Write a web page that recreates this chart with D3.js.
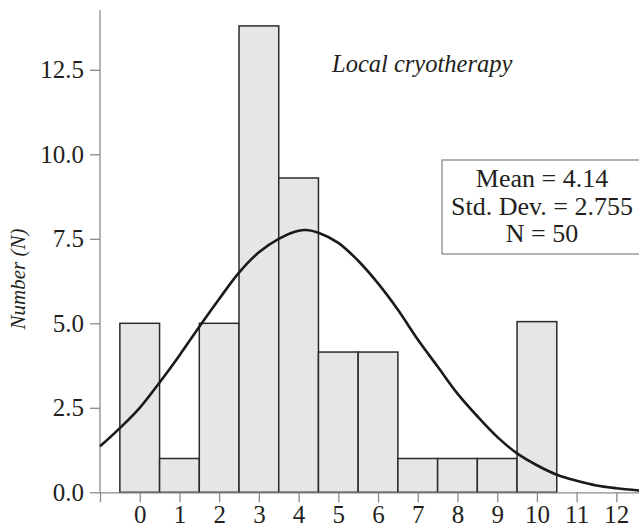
<!DOCTYPE html>
<meta charset="utf-8">
<head>
    <style>
        body { margin: 0; background: #fff; }
        svg { display: block; }
        text { font-family: 'Liberation Serif', serif; fill: #231f20; }
        .axis path, .axis line { stroke: #8a8a8a; stroke-width: 1.3; }
        .axis text { font-size: 25px; }
        .bar { fill: #e5e6e8; stroke: #2b2b2b; stroke-width: 1.5; }
        .curve { fill: none; stroke: #1a1a1a; stroke-width: 2.6; }
    </style>
</head>
<body>
    <svg width="639" height="527"></svg>

    <script src="https://d3js.org/d3.v7.min.js"></script>
    <script type="text/javascript">

        // histogram counts per score (bin width 1)
        var scores = [0, 1, 2, 3, 4, 5, 6, 7, 8, 9, 10];
        var counts = [5, 1, 5, 13.8, 9.3, 4.15, 4.15, 1, 1, 1, 5.05];

        // normal curve
        var curveX = [-1, -0.5, 0, 0.5, 1, 1.5, 2, 2.5, 3, 3.5, 4, 4.2, 4.5, 5, 5.5, 6, 6.5, 7, 7.5, 8, 8.5, 9, 9.5, 10, 10.5, 11, 11.5, 12, 12.6];
        var curveY = [1.36, 1.9, 2.5, 3.25, 4.05, 4.9, 5.72, 6.5, 7.1, 7.5, 7.74, 7.76, 7.68, 7.38, 6.85, 6.18, 5.4, 4.52, 3.72, 2.92, 2.25, 1.64, 1.15, 0.8, 0.52, 0.34, 0.2, 0.12, 0.05];

        var yTicks = [0, 2.5, 5, 7.5, 10, 12.5];
        var xTicks = [-1, 0, 1, 2, 3, 4, 5, 6, 7, 8, 9, 10, 11, 12];

        var statsLines = ["Mean = 4.14", "Std. Dev. = 2.755", "N = 50"];
        var title = "Local cryotherapy";
        var yLabel = "Number (N)";

        var svg = d3.select("svg");

        var x = d3.scaleLinear()
            .domain([-1, 12.57])
            .range([100, 639]);

        var y = d3.scaleLinear()
            .domain([0, 14.27])
            .range([492.3, 10]);

        // bars
        svg.append("g")
            .selectAll("rect")
            .data(scores)
            .enter()
            .append("rect")
            .attr("class", "bar")
            .attr("x", function (d) { return x(d - 0.5); })
            .attr("width", function (d) { return x(d + 0.5) - x(d - 0.5); })
            .attr("y", function (d, i) { return y(counts[i]); })
            .attr("height", function (d, i) { return y(0) - y(counts[i]); });

        // axes
        var yAxis = d3.axisLeft(y)
            .tickValues(yTicks)
            .tickSize(10)
            .tickPadding(6)
            .tickSizeOuter(0)
            .tickFormat(d3.format(".1f"));

        svg.append("g")
            .attr("class", "axis")
            .attr("transform", "translate(100,0)")
            .call(yAxis)
            .call(function (g) { g.select(".domain").attr("d", "M0," + y.range()[1] + "V" + y(0)); });

        var xAxis = d3.axisBottom(x)
            .tickValues(xTicks)
            .tickSize(10)
            .tickPadding(4)
            .tickSizeOuter(0)
            .tickFormat(function (d) { return d < 0 ? "" : d; });

        svg.append("g")
            .attr("class", "axis")
            .attr("transform", "translate(0," + y(0) + ")")
            .call(xAxis)
            .call(function (g) { g.selectAll("text").attr("y", 30.5).attr("dy", 0); });

        // fitted curve
        var line = d3.line()
            .x(function (d) { return x(d); })
            .y(function (d, i) { return y(curveY[i]); })
            .curve(d3.curveCatmullRom);

        svg.append("path")
            .attr("class", "curve")
            .attr("d", line(curveX));

        // title
        svg.append("text")
            .attr("x", 332)
            .attr("y", 72)
            .style("font-style", "italic")
            .style("font-size", "24.5px")
            .text(title);

        // y label
        svg.append("text")
            .attr("transform", "translate(25,279) rotate(-90)")
            .attr("text-anchor", "middle")
            .style("font-style", "italic")
            .style("font-size", "21px")
            .text(yLabel);

        // stats box
        svg.append("rect")
            .attr("x", 442)
            .attr("y", 160)
            .attr("width", 200)
            .attr("height", 94)
            .attr("fill", "#fff")
            .attr("stroke", "#8a8a8a")
            .attr("stroke-width", 1.3);

        svg.append("g")
            .selectAll("text")
            .data(statsLines)
            .enter()
            .append("text")
            .attr("x", 542)
            .attr("y", function (d, i) { return 187 + i * 27.5; })
            .attr("text-anchor", "middle")
            .style("font-size", "26px")
            .text(function (d) { return d; });

    </script>
</body>
